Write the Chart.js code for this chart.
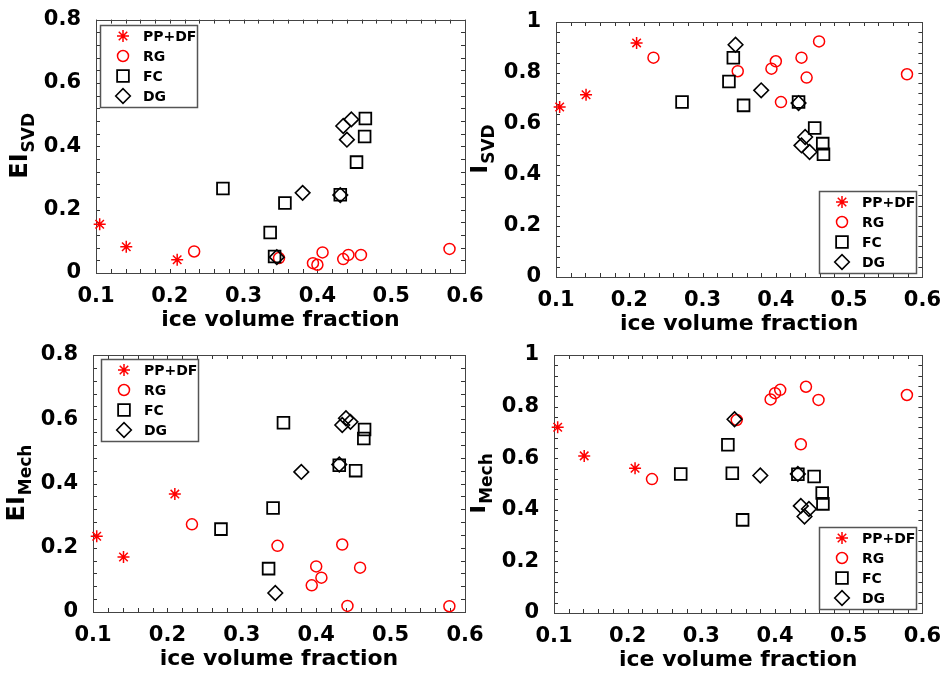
<!DOCTYPE html>
<html>
<head>
<meta charset="utf-8">
<script src="https://cdn.jsdelivr.net/npm/chart.js@4.4.0/dist/chart.umd.min.js"></script>
<style>
  html, body { margin: 0; padding: 0; background: #fff; }
  body { width: 944px; height: 675px; position: relative; overflow: hidden; }
  canvas { position: absolute; }
</style>
</head>
<body>
<canvas id="c1" width="500" height="340" style="left:0px;top:0px"></canvas>
<canvas id="c2" width="474" height="340" style="left:470px;top:0px"></canvas>
<canvas id="c3" width="500" height="345" style="left:0px;top:330px"></canvas>
<canvas id="c4" width="474" height="345" style="left:470px;top:330px"></canvas>
<script>
// series (grain types)
const seriesNames = ['PP+DF', 'RG', 'FC', 'DG'];

// ice volume fraction of each sample
const iceFracPP = [0.105, 0.141, 0.210];
const iceFracRG = [0.233, 0.348, 0.394, 0.400, 0.407, 0.435, 0.442, 0.459, 0.579];
const iceFracFC = [0.272, 0.336, 0.342, 0.356, 0.431, 0.453, 0.464, 0.465];
const iceFracDG = [0.345, 0.380, 0.431, 0.435, 0.440, 0.446];

// EI_SVD
const eiSvdPP = [0.154, 0.083, 0.042];
const eiSvdRG = [0.068, 0.047, 0.031, 0.026, 0.065, 0.044, 0.057, 0.057, 0.076];
const eiSvdFC = [0.267, 0.128, 0.052, 0.221, 0.247, 0.350, 0.431, 0.488];
const eiSvdDG = [0.050, 0.253, 0.246, 0.464, 0.421, 0.485];

// I_SVD
const iSvdPP = [0.667, 0.715, 0.918];
const iSvdRG = [0.860, 0.807, 0.817, 0.846, 0.686, 0.860, 0.782, 0.924, 0.795];
const iSvdFC = [0.686, 0.767, 0.860, 0.673, 0.686, 0.584, 0.523, 0.481];
const iSvdDG = [0.911, 0.732, 0.682, 0.516, 0.549, 0.490];

// EI_Mech
const eiMechPP = [0.236, 0.171, 0.367];
const eiMechRG = [0.273, 0.206, 0.083, 0.142, 0.107, 0.210, 0.019, 0.138, 0.018];
const eiMechFC = [0.258, 0.135, 0.324, 0.589, 0.457, 0.440, 0.540, 0.568];
const eiMechDG = [0.059, 0.436, 0.459, 0.582, 0.603, 0.592];

// I_Mech
const iMechPP = [0.720, 0.609, 0.561];
const iMechRG = [0.519, 0.748, 0.828, 0.852, 0.865, 0.654, 0.877, 0.826, 0.845];
const iMechFC = [0.539, 0.652, 0.542, 0.361, 0.538, 0.529, 0.465, 0.423];
const iMechDG = [0.751, 0.533, 0.539, 0.415, 0.374, 0.403];

// tick labels
const xTicks = [0.1, 0.2, 0.3, 0.4, 0.5, 0.6];
const eiTicks = [0, 0.2, 0.4, 0.6, 0.8];
const iTicks = [0, 0.2, 0.4, 0.6, 0.8, 1];

const FONT = '"DejaVu Sans", Arial, sans-serif';
const markers = [
  { pointStyle: 'star', radius: 6, color: '#ff0000', width: 1.5 },
  { pointStyle: 'circle', radius: 5.5, color: '#ff0000', width: 1.5 },
  { pointStyle: 'rect', radius: 8.3, color: '#000000', width: 1.8 },
  { pointStyle: 'rectRot', radius: 7.3, color: '#000000', width: 1.6 }
];
const xFracs = [iceFracPP, iceFracRG, iceFracFC, iceFracDG];

function toPoints(xs, ys) {
  return xs.map((x, i) => ({ x: x, y: ys[i] }));
}

function marker(ctx, m, x, y) {
  ctx.strokeStyle = m.color;
  ctx.fillStyle = 'rgba(0,0,0,0)';
  ctx.lineWidth = m.width;
  Chart.helpers.drawPoint(ctx, { pointStyle: m.pointStyle, radius: m.radius, borderWidth: m.width, rotation: 0 }, x, y);
}

// box around the axes with small inward ticks on all sides
const framePlugin = {
  id: 'frame',
  beforeDatasetsDraw(chart) {
    const { ctx, chartArea: a, scales: { x, y } } = chart;
    ctx.save();
    ctx.strokeStyle = '#333';
    ctx.lineWidth = 1;
    ctx.beginPath();
    for (let i = 0; i <= 25; i++) {
      const px = Math.round(x.getPixelForValue(0.1 + i * 0.02)) + 0.5;
      ctx.moveTo(px, a.bottom); ctx.lineTo(px, a.bottom - 4);
      ctx.moveTo(px, a.top); ctx.lineTo(px, a.top + 4);
    }
    for (let v = 0; v <= y.max + 1e-9; v += 0.04) {
      const py = Math.round(y.getPixelForValue(v)) + 0.5;
      ctx.moveTo(a.left, py); ctx.lineTo(a.left + 4, py);
      ctx.moveTo(a.right, py); ctx.lineTo(a.right - 4, py);
    }
    ctx.stroke();
    ctx.strokeStyle = '#444';
    ctx.strokeRect(Math.round(a.left) + 0.5, Math.round(a.top) + 0.5,
      Math.round(a.right - a.left), Math.round(a.bottom - a.top));
    ctx.restore();
  }
};

// y-axis title with subscript, and boxed legend inside the axes
const labelsPlugin = {
  id: 'labels',
  afterDraw(chart, args, opts) {
    const { ctx, chartArea: a } = chart;
    ctx.save();
    ctx.translate(a.left - 69, (a.top + a.bottom) / 2);
    ctx.rotate(-Math.PI / 2);
    const mainFont = 'bold 24px ' + FONT, subFont = 'bold 17px ' + FONT;
    ctx.font = mainFont; const w1 = ctx.measureText(opts.main).width;
    ctx.font = subFont; const w2 = ctx.measureText(opts.sub).width;
    const start = -(w1 + w2) / 2;
    ctx.fillStyle = '#000';
    ctx.textAlign = 'left';
    ctx.textBaseline = 'alphabetic';
    ctx.font = mainFont; ctx.fillText(opts.main, start, 0);
    ctx.font = subFont; ctx.fillText(opts.sub, start + w1 + 1, 7);
    ctx.restore();

    // legend
    const bw = 97, bh = 82;
    let left, top;
    if (opts.legend === 'tl') { left = a.left + opts.dx; top = a.top + opts.dy; }
    else { left = a.right - opts.dx - bw; top = a.bottom - opts.dy - bh; }
    left = Math.round(left); top = Math.round(top);
    ctx.save();
    ctx.fillStyle = '#fff';
    ctx.fillRect(left, top, bw, bh);
    ctx.strokeStyle = '#555';
    ctx.lineWidth = 1.5;
    ctx.strokeRect(left + 0.5, top + 0.5, bw, bh);
    ctx.font = 'bold 14px ' + FONT;
    ctx.textBaseline = 'middle';
    seriesNames.forEach((name, i) => {
      const yy = top + 11 + i * 20;
      marker(ctx, markers[i], left + 23, yy);
      ctx.fillStyle = '#000';
      ctx.fillText(name, left + 43, yy + 1);
    });
    ctx.restore();
  }
};

function makePanel(id, rect, area, yTicks, yMax, main, sub, ys, legend) {
  const yAxisW = 60, xAxisH = 62;
  const datasets = seriesNames.map((name, i) => ({
    label: name,
    data: toPoints(xFracs[i], ys[i]),
    pointStyle: markers[i].pointStyle,
    pointRadius: markers[i].radius,
    pointBorderColor: markers[i].color,
    pointBackgroundColor: 'rgba(0,0,0,0)',
    pointBorderWidth: markers[i].width,
    showLine: false,
    clip: false,
    order: 3 - i
  }));
  new Chart(document.getElementById(id), {
    type: 'scatter',
    data: { datasets: datasets },
    plugins: [framePlugin, labelsPlugin],
    options: {
      responsive: false,
      animation: false,
      events: [],
      layout: {
        padding: {
          left: area.left - rect.left - yAxisW,
          top: area.top - rect.top,
          right: rect.left + rect.w - area.right,
          bottom: rect.top + rect.h - area.bottom - xAxisH
        }
      },
      plugins: {
        legend: { display: false },
        tooltip: { enabled: false },
        labels: Object.assign({ main: main, sub: sub }, legend)
      },
      scales: {
        x: {
          type: 'linear',
          min: 0.1, max: 0.6,
          afterBuildTicks: s => { s.ticks = xTicks.map(v => ({ value: v })); },
          afterFit: s => { s.height = xAxisH; },
          grid: { display: false },
          border: { display: false },
          ticks: {
            color: '#000',
            padding: 3,
            maxRotation: 0,
            font: { family: FONT, size: 21, weight: 'bold' },
            callback: v => String(Math.round(v * 10) / 10)
          },
          title: {
            display: true,
            text: 'ice volume fraction',
            color: '#000',
            padding: { top: 0, bottom: 2 },
            font: { family: FONT, size: 22, weight: 'bold' }
          }
        },
        y: {
          type: 'linear',
          min: 0, max: yMax,
          afterBuildTicks: s => { s.ticks = yTicks.map(v => ({ value: v })); },
          afterFit: s => { s.width = yAxisW; },
          grid: { display: false },
          border: { display: false },
          ticks: {
            color: '#000',
            padding: 7,
            font: { family: FONT, size: 21, weight: 'bold' },
            callback: v => String(Math.round(v * 10) / 10)
          }
        }
      }
    }
  });
}

makePanel('c1', { left: 0, top: 0, w: 500, h: 340 }, { left: 96, top: 17, right: 465, bottom: 273 },
  eiTicks, 0.8, 'EI', 'SVD', [eiSvdPP, eiSvdRG, eiSvdFC, eiSvdDG], { legend: 'tl', dx: 4, dy: 5 });
makePanel('c2', { left: 470, top: 0, w: 474, h: 340 }, { left: 556, top: 22, right: 923, bottom: 277 },
  iTicks, 1, 'I', 'SVD', [iSvdPP, iSvdRG, iSvdFC, iSvdDG], { legend: 'br', dx: 6, dy: 4 });
makePanel('c3', { left: 0, top: 330, w: 500, h: 345 }, { left: 93, top: 355, right: 465, bottom: 612 },
  eiTicks, 0.8, 'EI', 'Mech', [eiMechPP, eiMechRG, eiMechFC, eiMechDG], { legend: 'tl', dx: 8, dy: 4 });
makePanel('c4', { left: 470, top: 330, w: 474, h: 345 }, { left: 554, top: 355, right: 923, bottom: 613 },
  iTicks, 1, 'I', 'Mech', [iMechPP, iMechRG, iMechFC, iMechDG], { legend: 'br', dx: 6, dy: 4 });
</script>
</body>
</html>
